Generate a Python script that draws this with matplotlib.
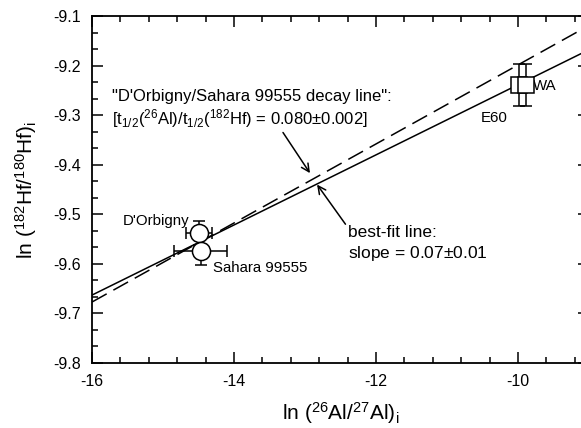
import numpy as np
import matplotlib
matplotlib.use('Agg')
import matplotlib.pyplot as plt
from matplotlib.ticker import MultipleLocator

plt.rcParams['font.family'] = ['Liberation Sans', 'DejaVu Sans']
plt.rcParams['mathtext.fontset'] = 'custom'
plt.rcParams['mathtext.rm'] = 'Liberation Sans'
plt.rcParams['mathtext.it'] = 'Liberation Sans:italic'

################### data ##################
# chondrite-like samples (circles)
circ_names = ["D'Orbigny", "Sahara 99555"]
circ_x = [-14.49, -14.47]
circ_y = [-9.538, -9.574]
circ_xerr = [0.18, 0.37]
circ_yerr = [0.024, 0.028]

# E60 / WA (squares)
sq_names = ["E60", "WA"]
sq_x = [-9.99, -9.89]
sq_y = [-9.239, -9.239]
sq_yerr = [0.043, 0.043]

# lines (endpoints)
line_x = [-16.0, -9.0]
fit_y = [-9.663, -9.168]      # best-fit, slope ~0.07
decay_y = [-9.677, -9.119]    # decay line, slope ~0.080

################### plot ##################
fig = plt.figure(figsize=(5.81, 4.28), dpi=100)
ax = fig.add_axes([92/581, 65/428, 497/581, 347/428])

ax.plot(line_x, fit_y, color='black', lw=1.1)
ax.plot(line_x, decay_y, color='black', lw=1.1, dashes=(11, 5))

ax.errorbar(circ_x, circ_y, xerr=circ_xerr, yerr=circ_yerr, fmt='o', ms=13,
            mfc='white', mec='black', mew=1.1, ecolor='black', elinewidth=1.1,
            capsize=4, capthick=1.1, zorder=3)
ax.errorbar(sq_x, sq_y, yerr=sq_yerr, fmt='s', ms=11, mfc='white', mec='black',
            mew=1.1, ecolor='black', elinewidth=1.1, capsize=4, capthick=1.1, zorder=3)

ax.set_xlim(-16, -9)
ax.set_ylim(-9.8, -9.1)
ax.xaxis.set_major_locator(MultipleLocator(2))
ax.xaxis.set_minor_locator(MultipleLocator(0.4))
ax.yaxis.set_major_locator(MultipleLocator(0.1))
ax.yaxis.set_minor_locator(MultipleLocator(0.1/3))
ax.xaxis.set_major_formatter(matplotlib.ticker.FuncFormatter(lambda v, p: '%d' % v))
ax.yaxis.set_major_formatter(matplotlib.ticker.FuncFormatter(lambda v, p: '%.1f' % v))
ax.tick_params(which='both', direction='in', top=True, right=True, labelsize=11.5, width=1.1)
ax.tick_params(which='major', length=8, pad=8)
ax.tick_params(which='minor', length=4)
for sp in ax.spines.values():
    sp.set_linewidth(1.3)
ax.spines['right'].set_visible(False)

ax.set_xlabel(r'ln ($^{26}$Al/$^{27}$Al)$_\mathrm{i}$', fontsize=15, labelpad=8)
ax.set_ylabel(r'ln ($^{182}$Hf/$^{180}$Hf)$_\mathrm{i}$', fontsize=15, labelpad=10)

# point labels
ax.text(-14.63, -9.513, circ_names[0], fontsize=10.8, ha='right', va='center')
ax.text(-14.3, -9.608, circ_names[1], fontsize=10.8, ha='left', va='center')
ax.text(-10.52, -9.306, sq_names[0], fontsize=10.8, ha='left', va='center')
ax.text(-9.79, -9.241, sq_names[1], fontsize=10.8, ha='left', va='center')

# annotations
ax.text(-15.72, -9.263, '"D\'Orbigny/Sahara 99555 decay line":', fontsize=12, ha='left', va='center')
ax.text(-15.72, -9.307, r'[t$_{1/2}$($^{26}$Al)/t$_{1/2}$($^{182}$Hf) = 0.080$\pm$0.002]',
        fontsize=12, ha='left', va='center')
ax.annotate('', xy=(-12.93, -9.417), xytext=(-13.31, -9.335),
            arrowprops=dict(arrowstyle='->', color='black', lw=1.1, shrinkA=0, shrinkB=0,
                            mutation_scale=14))
ax.annotate('', xy=(-12.83, -9.44), xytext=(-12.43, -9.52),
            arrowprops=dict(arrowstyle='->', color='black', lw=1.1, shrinkA=0, shrinkB=0,
                            mutation_scale=14))
ax.text(-12.39, -9.536, 'best-fit line:', fontsize=12.5, ha='left', va='center')
ax.text(-12.39, -9.58, r'slope = 0.07$\pm$0.01', fontsize=12.5, ha='left', va='center')

plt.savefig('out.png', dpi=100)
